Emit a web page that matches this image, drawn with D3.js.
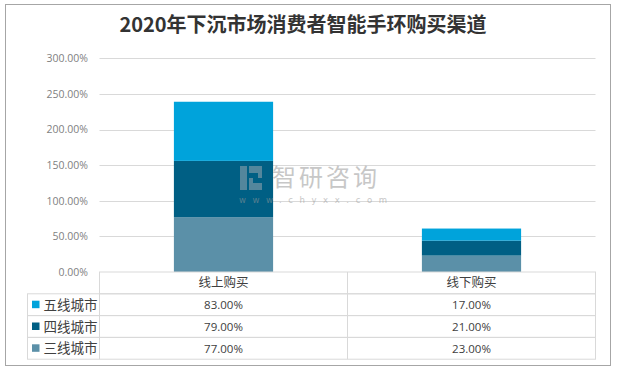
<!DOCTYPE html>
<html><head><meta charset="utf-8">
<script src="https://cdn.jsdelivr.net/npm/d3@7/dist/d3.min.js"></script>
<style>html,body{margin:0;padding:0;background:#fff;}svg{display:block;}</style>
</head><body>
<div id="chart"></div>
<script>
const title = "2020年下沉市场消费者智能手环购买渠道";
const categories = ["线上购买", "线下购买"];
const seriesNames = ["三线城市", "四线城市", "五线城市"];
const tier3 = [77, 23];
const tier4 = [79, 21];
const tier5 = [83, 17];
const yTicks = [0, 50, 100, 150, 200, 250, 300];
const colors = {"三线城市": "#5B90A8", "四线城市": "#005F84", "五线城市": "#00A3DB"};
const legendOrder = ["五线城市", "四线城市", "三线城市"];

(function () {
const W = 617, H = 369;
const svg = d3.select("#chart").append("svg").attr("width", W).attr("height", H);
const cjk = "'Noto Sans CJK SC', 'Noto Sans', sans-serif";

svg.append("rect").attr("x", 5.5).attr("y", 4.5).attr("width", 605).attr("height", 361)
  .attr("fill", "#fff").attr("stroke", "#a6a6a6").attr("stroke-width", 1);

svg.append("text").attr("x", 303).attr("y", 32).attr("text-anchor", "middle")
  .attr("font-family", cjk).attr("font-weight", "bold").attr("font-size", 20)
  .attr("fill", "#333333").text(title);

const pLeft = 99.5, pRight = 595.5, pTop = 58.3, pBottom = 272;
const x = d3.scaleBand().domain(categories).range([pLeft, pRight]).paddingInner(0.6).paddingOuter(0.3);
const y = d3.scaleLinear().domain([0, 300]).range([pBottom, pTop]);

// gridlines
svg.append("g").selectAll("line").data(yTicks.filter(d => d > 0)).join("line")
  .attr("x1", pLeft).attr("x2", pRight)
  .attr("y1", d => Math.round(y(d)) + 0.5).attr("y2", d => Math.round(y(d)) + 0.5)
  .attr("stroke", "#d9d9d9").attr("stroke-width", 1);

// y axis labels
const yAxis = d3.axisLeft(y).tickValues(yTicks).tickSize(0).tickPadding(0)
  .tickFormat(d => d.toFixed(2) + "%");
const ga = svg.append("g").attr("transform", `translate(88,0)`).call(yAxis);
ga.select(".domain").remove();
ga.selectAll("text").attr("font-family", "'Open Sans', 'Noto Sans', sans-serif").attr("font-size", 10.5).attr("fill", "#7f7f7f");

// stacked data
const rows = categories.map((c, i) => ({cat: c, "三线城市": tier3[i], "四线城市": tier4[i], "五线城市": tier5[i]}));
const stack = d3.stack().keys(seriesNames)(rows);
svg.append("g").selectAll("g").data(stack).join("g").attr("fill", d => colors[d.key])
  .selectAll("rect").data(d => d).join("rect")
  .attr("x", d => x(d.data.cat)).attr("width", x.bandwidth())
  .attr("y", d => y(d[1])).attr("height", d => y(d[0]) - y(d[1]));

// watermark
const wm = svg.append("g").attr("opacity", 0.55);
wm.append("rect").attr("x", 240).attr("y", 166).attr("width", 7).attr("height", 24).attr("fill", "#9aa6b0");
wm.append("path").attr("d", "M249,166 h13 v12 h-9 v5 h9 v7 h-13 v-12 h9 v-5 h-9 z").attr("fill", "#9aa6b0");
wm.append("text").attr("x", 272).attr("y", 186).attr("font-family", cjk).attr("font-size", 24)
  .attr("fill", "#9a9a9a").attr("letter-spacing", 3).text("智研咨询");
wm.append("text").attr("x", 239).attr("y", 203).attr("font-family", "'DejaVu Sans', sans-serif").attr("font-size", 8.5)
  .attr("fill", "#9a9a9a").attr("letter-spacing", 6.6).text("www.chyxx.com");

// data table
const tbl = svg.append("g");
const rowH = 21.8;
const legLeft = 27.5;
const lineColor = "#d9d9d9";
tbl.append("rect").attr("x", pLeft).attr("y", pBottom).attr("width", pRight - pLeft).attr("height", rowH)
  .attr("fill", "none").attr("stroke", lineColor);
for (let r = 0; r < 3; r++) {
  tbl.append("rect").attr("x", legLeft).attr("y", pBottom + rowH * (r + 1)).attr("width", pRight - legLeft).attr("height", rowH)
    .attr("fill", "none").attr("stroke", lineColor);
}
const divX = pLeft + (pRight - pLeft) / 2;
tbl.append("line").attr("x1", divX).attr("x2", divX).attr("y1", pBottom).attr("y2", pBottom + rowH * 4).attr("stroke", lineColor);
tbl.append("line").attr("x1", pLeft).attr("x2", pLeft).attr("y1", pBottom).attr("y2", pBottom + rowH * 4).attr("stroke", lineColor);

const colCenter = c => pLeft + (pRight - pLeft) / categories.length * (categories.indexOf(c) + 0.5);
tbl.selectAll("text.h").data(categories).join("text").attr("class", "h")
  .attr("x", d => colCenter(d)).attr("y", pBottom + rowH / 2 + 4.5).attr("text-anchor", "middle")
  .attr("font-family", cjk).attr("font-size", 12.5).attr("fill", "#404040").text(d => d);

const seriesData = {"三线城市": tier3, "四线城市": tier4, "五线城市": tier5};
legendOrder.forEach((s, r) => {
  const cy = pBottom + rowH * (r + 1) + rowH / 2;
  tbl.append("rect").attr("x", 32).attr("y", cy - 4).attr("width", 7.5).attr("height", 7.5).attr("fill", colors[s]);
  tbl.append("text").attr("x", 43.5).attr("y", cy + 5).attr("font-family", cjk).attr("font-size", 13.5)
    .attr("fill", "#404040").text(s);
  categories.forEach((c, i) => {
    tbl.append("text").attr("x", colCenter(c)).attr("y", cy + 4.5).attr("text-anchor", "middle")
      .attr("font-family", "'Open Sans', 'Noto Sans', sans-serif").attr("font-size", 11.5).attr("fill", "#404040")
      .text(seriesData[s][i].toFixed(2) + "%");
  });
});
})();
</script>
</body></html>
